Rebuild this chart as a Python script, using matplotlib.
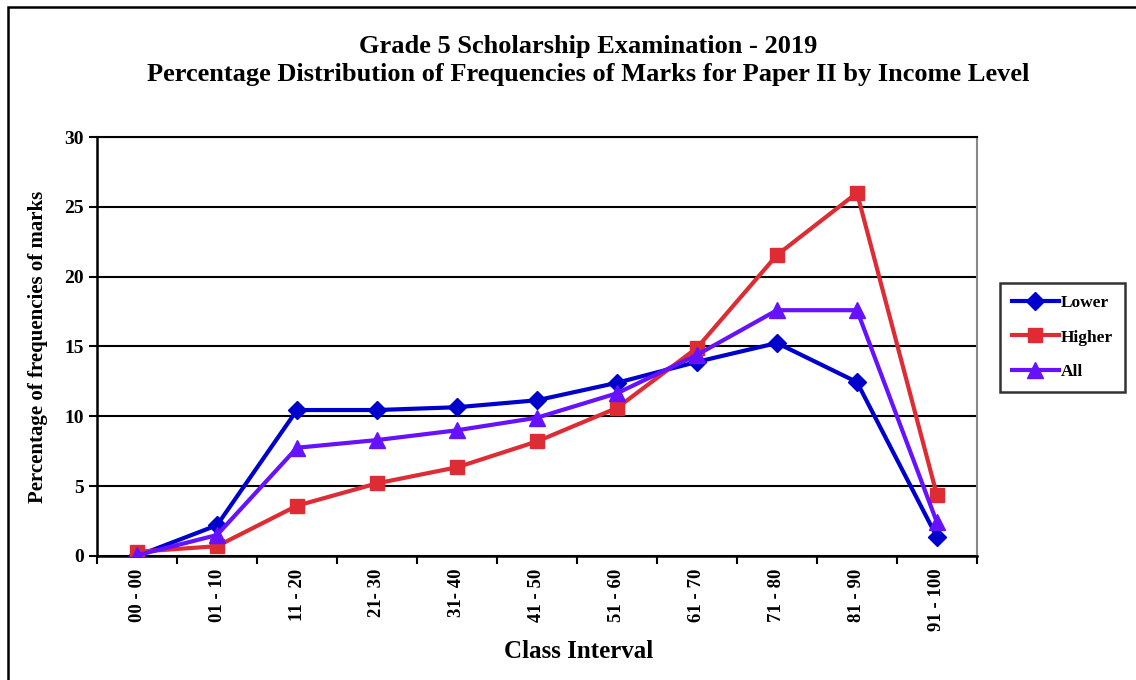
import matplotlib
matplotlib.use("Agg")
import matplotlib.pyplot as plt
from matplotlib.patches import Rectangle

classes = ["00 - 00", "01 - 10", "11 - 20", "21- 30", "31- 40", "41 - 50",
           "51 - 60", "61 - 70", "71 - 80", "81 - 90", "91 - 100"]
lower = [0.0, 2.2, 10.45, 10.45, 10.65, 11.15, 12.4, 13.9, 15.25, 12.45, 1.35]
higher = [0.3, 0.7, 3.6, 5.2, 6.35, 8.2, 10.6, 14.9, 21.55, 26.0, 4.35]
all_levels = [0.05, 1.5, 7.75, 8.3, 9.0, 9.9, 11.65, 14.4, 17.6, 17.6, 2.4]

plt.rcParams['font.family'] = ['Liberation Serif', 'DejaVu Serif']
plt.rcParams['font.weight'] = 'bold'

fig = plt.figure(figsize=(11.36, 6.8), dpi=100)
ax = fig.add_axes([0.0854, 0.1824, 0.7746, 0.6161])

x = list(range(len(classes)))
ax.plot(x, lower, color='#0000CC', linewidth=3, marker='D', markersize=9, label='Lower', zorder=3)
ax.plot(x, higher, color='#DD2C34', linewidth=3, marker='s', markersize=10, label='Higher', zorder=3)
ax.plot(x, all_levels, color='#6611FF', linewidth=3, marker='^', markersize=11, label='All', zorder=4)

ax.set_xlim(-0.5, len(classes) - 0.5)
ax.set_ylim(0, 30)
ax.set_yticks(range(0, 31, 5))
ax.yaxis.grid(True, color='black', linewidth=1.5)
ax.set_axisbelow(True)

ax.set_xticks([i - 0.5 for i in range(len(classes) + 1)])
ax.set_xticklabels([])
ax.set_xticks(x, minor=True)
ax.set_xticklabels(classes, minor=True, rotation=90, fontsize=13.5, fontweight='bold')
ax.tick_params(axis='x', which='minor', length=0, pad=9)
ax.tick_params(axis='x', which='major', length=6, width=1.5, direction='out')
ax.tick_params(axis='y', length=6, width=1.5, direction='out', labelsize=14)

for side in ['left', 'bottom']:
    ax.spines[side].set_linewidth(1.8)
ax.spines['right'].set_color('#888888')
ax.spines['right'].set_linewidth(1.5)
ax.spines['top'].set_linewidth(1.5)

ax.set_xlabel('Class Interval', fontsize=18, fontweight='bold')
ax.xaxis.set_label_coords(0.547, -0.2)
ax.set_ylabel('Percentage of frequencies of marks', fontsize=15, fontweight='bold', labelpad=12)

fig.text(0.518, 0.932, 'Grade 5 Scholarship Examination - 2019', ha='center', va='center',
         fontsize=19, fontweight='bold')
fig.text(0.518, 0.89, 'Percentage Distribution of Frequencies of Marks for Paper II by Income Level',
         ha='center', va='center', fontsize=19, fontweight='bold')

leg = fig.legend(loc='upper left', bbox_to_anchor=(0.880, 0.584), frameon=True, fancybox=False,
                 edgecolor='black', fontsize=12.5, handlelength=2.7, labelspacing=1.05,
                 borderpad=0.7, borderaxespad=0, handletextpad=0.1)
leg.get_frame().set_linewidth(1.8)
for t in leg.get_texts():
    t.set_fontweight('bold')

fig.patches.append(Rectangle((0.007, -0.1), 1.2, 1.09, transform=fig.transFigure,
                             fill=False, edgecolor='black', linewidth=1.8))

fig.savefig('out.png', dpi=100)
